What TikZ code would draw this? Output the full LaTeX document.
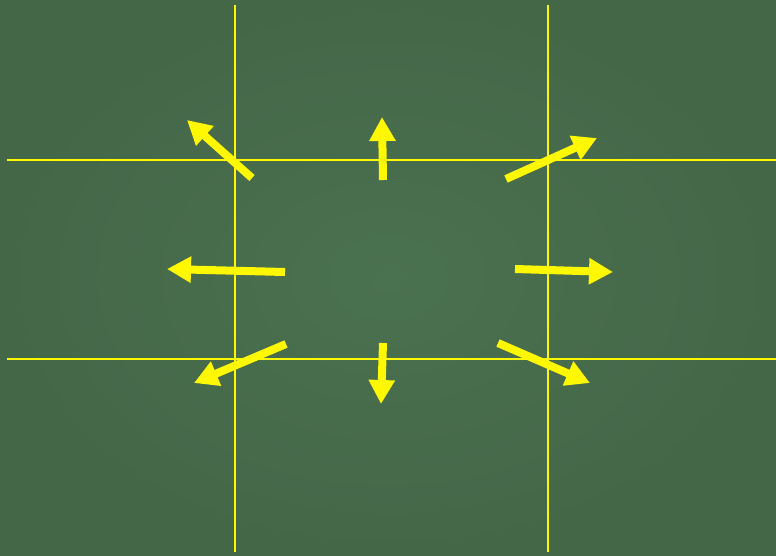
\documentclass[tikz,border=0pt]{standalone}
\usetikzlibrary{arrows.meta}
\definecolor{boardin}{RGB}{74,113,80}
\definecolor{boardout}{RGB}{68,103,72}
\definecolor{chalk}{RGB}{255,248,0}
\begin{document}
\begin{tikzpicture}[x=1pt,y=-1pt,
  gridline/.style={draw=chalk,line width=2pt},
  bigarrow/.style={draw=chalk,line width=8pt,-{Triangle[length=24pt,width=25pt]}}]
\useasboundingbox (0,0) rectangle (776,555);
\shade[inner color=boardin,outer color=boardout] (0,0) rectangle (776,555);
% grid lines
\coordinate (v1t) at (235,5); \coordinate (v1b) at (235,552);
\coordinate (v2t) at (548,5); \coordinate (v2b) at (548,552);
\coordinate (h1l) at (7,160); \coordinate (h1r) at (776,160);
\coordinate (h2l) at (7,359); \coordinate (h2r) at (776,359);
\draw[gridline] (v1t) -- (v1b);
\draw[gridline] (v2t) -- (v2b);
\draw[gridline] (h1l) -- (h1r);
\draw[gridline] (h2l) -- (h2r);
% arrows
\coordinate (a1s) at (252,178); \coordinate (a1e) at (187,120);
\coordinate (a2s) at (383,180); \coordinate (a2e) at (382,117);
\coordinate (a3s) at (506,179); \coordinate (a3e) at (597,138);
\coordinate (a4s) at (285,272); \coordinate (a4e) at (167,269);
\coordinate (a5s) at (515,269); \coordinate (a5e) at (613,272);
\coordinate (a6s) at (286,344); \coordinate (a6e) at (194,383);
\coordinate (a7s) at (383,343); \coordinate (a7e) at (381,404);
\coordinate (a8s) at (498,343); \coordinate (a8e) at (590,383);
\foreach \i in {1,...,8} {\draw[bigarrow] (a\i s) -- (a\i e);}
\end{tikzpicture}
\end{document}
